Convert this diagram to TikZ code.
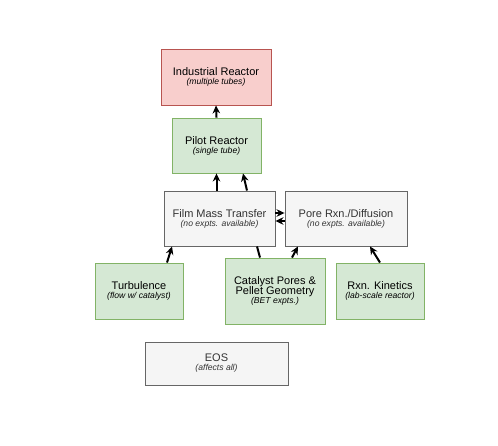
\documentclass[tikz,border=0pt]{standalone}
\usepackage{fontspec}
\setmainfont{Liberation Sans}
\usetikzlibrary{arrows.meta}
\definecolor{redfill}{HTML}{F8CECC}
\definecolor{redline}{HTML}{B85450}
\definecolor{greenfill}{HTML}{D5E8D4}
\definecolor{greenline}{HTML}{82B366}
\definecolor{greyfill}{HTML}{F5F5F5}
\definecolor{greyline}{HTML}{666666}
\definecolor{greytext}{HTML}{333333}
\newcommand{\boxsub}[1]{\\[-2pt]{\fontsize{8.6}{9}\selectfont\itshape #1}}
\tikzset{
  base/.style={draw, line width=0.9pt, align=center, inner sep=0pt,
    font=\fontsize{11}{11}\selectfont},
  redbox/.style={base, fill=redfill, draw=redline},
  greenbox/.style={base, fill=greenfill, draw=greenline},
  greybox/.style={base, fill=greyfill, draw=greyline, text=greytext},
  conn/.style={line width=2pt, -{Stealth[length=8pt,width=7.5pt]}},
  plainconn/.style={line width=2pt}
}
\begin{document}
\begin{tikzpicture}[x=1pt,y=-1pt]
\useasboundingbox (0,0) rectangle (498,446);
\node[redbox, minimum width=110pt, minimum height=56pt] (ind) at (216,77) {Industrial Reactor\boxsub{(multiple tubes)}};
\node[greenbox, minimum width=89pt, minimum height=55pt] (pilot) at (216.5,145.5) {Pilot Reactor\boxsub{(single tube)}};
\node[greybox, minimum width=111pt, minimum height=55pt] (film) at (219.5,218.5) {Film Mass Transfer\boxsub{(no expts. available)}};
\node[greybox, minimum width=122pt, minimum height=55pt] (pore) at (346,218.5) {Pore Rxn./Diffusion\boxsub{(no expts. available)}};
\node[greenbox, minimum width=88pt, minimum height=56pt] (turb) at (139,291) {Turbulence\boxsub{(flow w/ catalyst)}};
\node[greenbox, minimum width=100pt, minimum height=66pt] (cat) at (275,291) {Catalyst Pores \&\\[-1pt]Pellet Geometry\boxsub{(BET expts.)}};
\node[greenbox, minimum width=88pt, minimum height=56pt] (kin) at (380,291) {Rxn. Kinetics\boxsub{(lab-scale reactor)}};
\node[greybox, minimum width=143pt, minimum height=43pt] (eos) at (216.5,363.5) {EOS\boxsub{(affects all)}};

\draw[conn] (pilot.north) -- (ind.south);
\draw[conn] (pilot.south |- film.north) -- (pilot.south);
\draw[conn] ([xshift=27.5pt]film.north) -- ([xshift=26.5pt]pilot.south);
\draw[conn] ([yshift=5.5pt]film.east) -- ([yshift=5.5pt]pore.west);
\draw[conn] ([yshift=-2.5pt]pore.west) -- ([yshift=-2.5pt]film.east);
\draw[conn] ([xshift=28pt]turb.north) -- ([xshift=-47.5pt]film.south);
\draw[plainconn] ([xshift=-15pt]cat.north) -- ([xshift=37.5pt]film.south);
\draw[conn] ([xshift=17pt]cat.north) -- ([xshift=-48pt]pore.south);
\draw[conn] (kin.north) -- ([xshift=24pt]pore.south);
\end{tikzpicture}
\end{document}
